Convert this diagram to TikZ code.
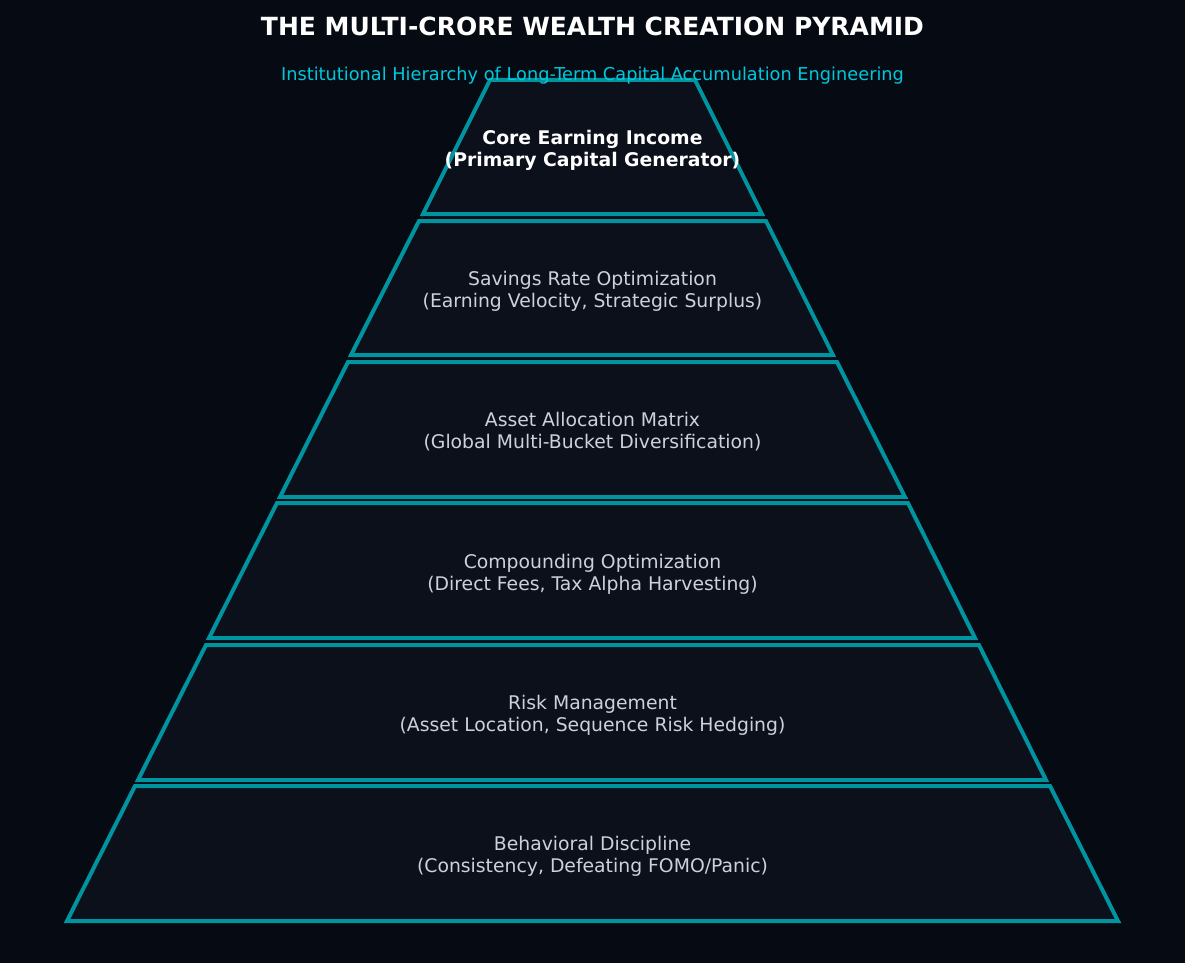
\documentclass[tikz,border=0pt]{standalone}
\usepackage{fontspec}
\setmainfont{DejaVu Sans}
\definecolor{bg}{HTML}{060A12}
\definecolor{tierfill}{HTML}{0B101A}
\definecolor{tierline}{HTML}{0094A0}
\definecolor{subcol}{HTML}{00C8DC}
\definecolor{bodytext}{HTML}{CDD1DC}
\begin{document}
\begin{tikzpicture}[x=1pt,y=-1pt,
  tier/.style={draw=tierline,fill=tierfill,line width=4pt,line join=miter},
  label/.style={align=center,text=bodytext,font=\fontsize{18.8}{22}\selectfont},
  toplabel/.style={align=center,text=white,font=\bfseries\fontsize{18.8}{22}\selectfont}]
\fill[bg] (0,0) rectangle (1185,963);
\useasboundingbox (0,0) rectangle (1185,963);
\node[text=white,font=\bfseries\fontsize{25}{30}\selectfont] (title) at (592.5,26) {THE MULTI-CRORE WEALTH CREATION PYRAMID};
% tiers
\draw[tier] (490,80) -- (695,80) -- (762,214) -- (423,214) -- cycle;
\draw[tier] (419,221) -- (766,221) -- (833,355) -- (351,355) -- cycle;
\draw[tier] (348,362) -- (837,362) -- (905,497) -- (280,497) -- cycle;
\draw[tier] (277,503) -- (908,503) -- (975,638) -- (209,638) -- cycle;
\draw[tier] (206,645) -- (979,645) -- (1046,780) -- (138,780) -- cycle;
\draw[tier] (135,786) -- (1050,786) -- (1118,921) -- (67,921) -- cycle;
\node[text=subcol,font=\fontsize{17.75}{21}\selectfont] (subtitle) at (592.5,75.5) {Institutional Hierarchy of Long-Term Capital Accumulation Engineering};
\node[toplabel] (t1) at (592.5,150) {Core Earning Income\\(Primary Capital Generator)};
\node[label] (t2) at (592.5,291) {Savings Rate Optimization\\(Earning Velocity, Strategic Surplus)};
\node[label] (t3) at (592.5,432) {Asset Allocation Matrix\\(Global Multi-Bucket Diversification)};
\node[label] (t4) at (592.5,574) {Compounding Optimization\\(Direct Fees, Tax Alpha Harvesting)};
\node[label] (t5) at (592.5,715) {Risk Management\\(Asset Location, Sequence Risk Hedging)};
\node[label] (t6) at (592.5,856) {Behavioral Discipline\\(Consistency, Defeating FOMO/Panic)};
\end{tikzpicture}
\end{document}
